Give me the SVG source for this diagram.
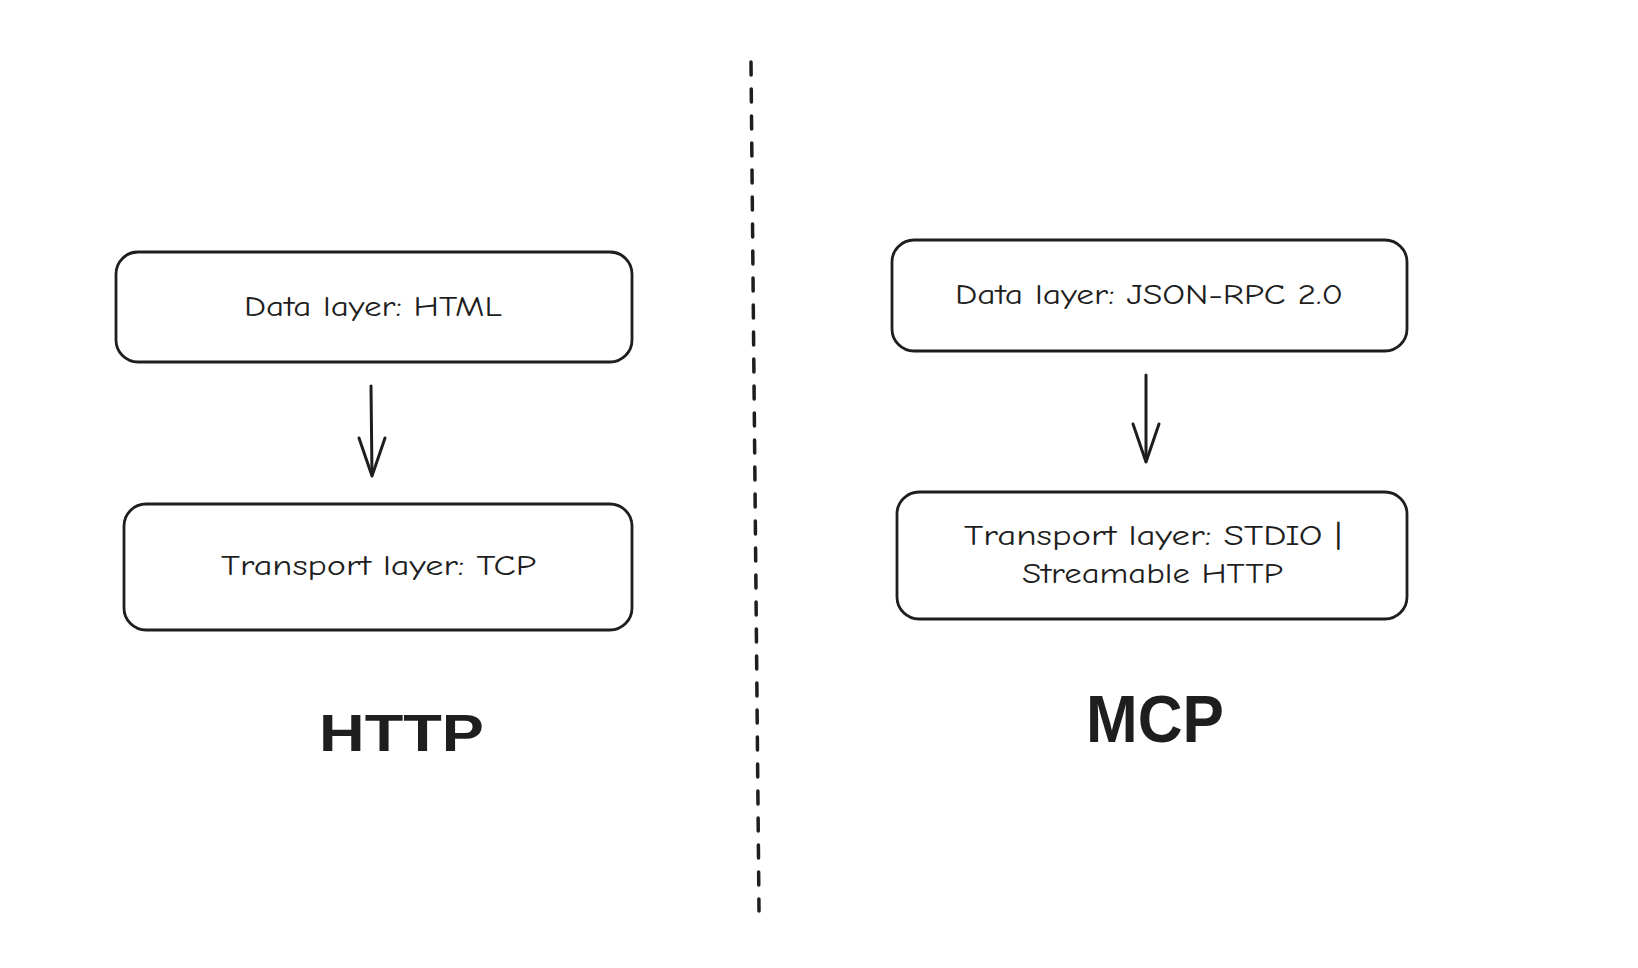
<svg xmlns="http://www.w3.org/2000/svg" width="1638" height="968" viewBox="0 0 1638 968">
<defs>
<style>
.box{fill:#ffffff;stroke:#1e1e1e;stroke-width:2.8;}
.lbl{font-family:"Comic Neue","Liberation Sans",sans-serif;font-size:29px;fill:#1e1e1e;}
.title{font-family:"Liberation Sans",sans-serif;font-weight:bold;fill:#1e1e1e;}
.conn{fill:none;stroke:#1e1e1e;stroke-width:3;stroke-linecap:round;stroke-linejoin:round;}
</style>
</defs>
<rect width="1638" height="968" fill="#ffffff"/>
<g id="divider">
<line x1="751" y1="62" x2="759" y2="911" stroke="#1e1e1e" stroke-width="3.5" stroke-dasharray="13 14" stroke-linecap="round"/>
</g>
<g id="http-data">
<rect class="box" x="116" y="252" width="516" height="110" rx="22"/>
<text class="lbl" x="244" y="316" textLength="258" lengthAdjust="spacingAndGlyphs">Data layer: HTML</text>
</g>
<g id="http-transport">
<rect class="box" x="124" y="504" width="508" height="126" rx="22"/>
<text class="lbl" x="221" y="575" textLength="315" lengthAdjust="spacingAndGlyphs">Transport layer: TCP</text>
</g>
<g id="mcp-data">
<rect class="box" x="892" y="240" width="515" height="111" rx="22"/>
<text class="lbl" x="955" y="304" textLength="388" lengthAdjust="spacingAndGlyphs">Data layer: JSON-RPC 2.0</text>
</g>
<g id="mcp-transport">
<rect class="box" x="897" y="492" width="510" height="127" rx="22"/>
<text class="lbl" x="964" y="545" textLength="378" lengthAdjust="spacingAndGlyphs">Transport layer: STDIO |</text>
<text class="lbl" x="1022" y="583" textLength="261" lengthAdjust="spacingAndGlyphs">Streamable HTTP</text>
</g>
<g id="http-title">
<text class="title" x="319" y="751" font-size="52" textLength="165" lengthAdjust="spacingAndGlyphs">HTTP</text>
</g>
<g id="mcp-title">
<text class="title" x="1086" y="742" font-size="66" textLength="138" lengthAdjust="spacingAndGlyphs">MCP</text>
</g>
<g id="connectors">
<path class="conn" d="M371 386 L372 475"/>
<path class="conn" d="M359 438 L372 476 L385 438"/>
<path class="conn" d="M1146 375 L1146 461"/>
<path class="conn" d="M1133 424 L1146 462 L1159 424"/>
</g>
</svg>
